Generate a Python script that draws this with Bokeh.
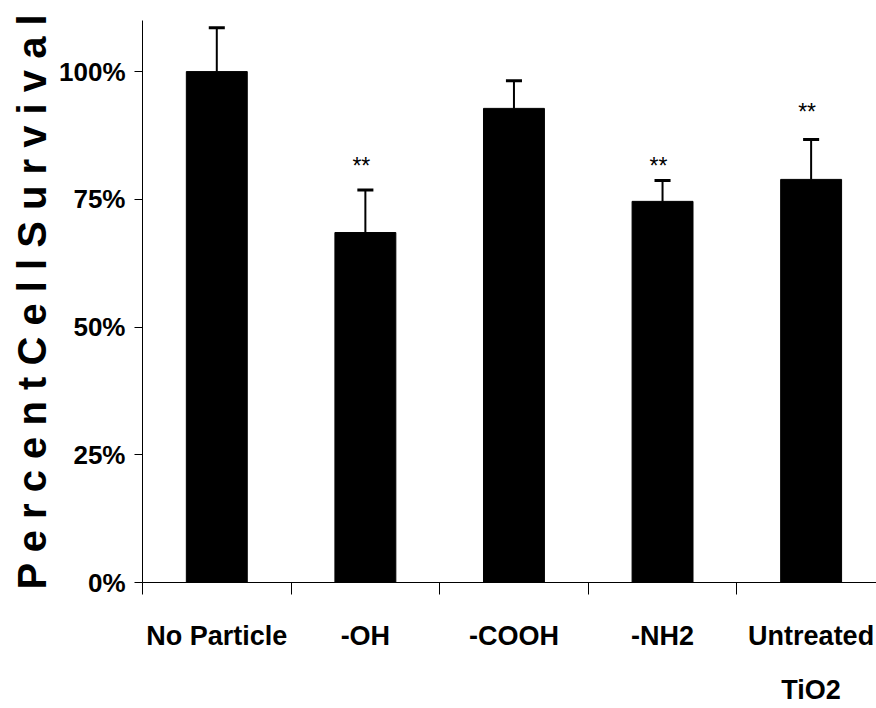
from bokeh.plotting import figure
from bokeh.models import (Range1d, FixedTicker, NumeralTickFormatter, ColumnDataSource)
from bokeh.core.properties import value
from bokeh.embed import file_html
from bokeh.resources import INLINE

# ---- data ----
categories = ["No Particle", "-OH", "-COOH", "-NH2", "Untreated\nTiO2"]
survival = [1.000, 0.685, 0.928, 0.746, 0.789]
survival_err = [0.086, 0.083, 0.054, 0.041, 0.078]
sig_marks = ["", "**", "", "**", "**"]
sig_height = [None, 0.815, None, 0.815, 0.920]
y_ticks = [0, 0.25, 0.5, 0.75, 1.0]

FONT = "Liberation Sans"

n = len(categories)
centers = [i + 0.5 for i in range(n)]
bar_w = 0.41
cap_half = 0.054

p = figure(width=876, height=708, x_range=Range1d(0, 4.94), y_range=Range1d(0, 1.10),
           output_backend="svg", toolbar_location=None,
           min_border_left=142, min_border_right=0, min_border_top=20, min_border_bottom=125)
p.outline_line_color = None
p.xgrid.visible = False
p.ygrid.visible = False
p.background_fill_color = "white"

src = ColumnDataSource(dict(x=centers, top=survival,
                            etop=[v + e for v, e in zip(survival, survival_err)],
                            cl=[c - cap_half for c in centers],
                            cr=[c + cap_half for c in centers]))
p.vbar(x="x", top="top", width=bar_w, bottom=0, source=src, fill_color="black", line_color="black")
p.segment(x0="x", y0="top", x1="x", y1="etop", source=src, line_color="black", line_width=2)
p.segment(x0="cl", y0="etop", x1="cr", y1="etop", source=src, line_color="black", line_width=3)

sx = [c for c, m in zip(centers, sig_marks) if m]
sy = [h for h, m in zip(sig_height, sig_marks) if m]
st = [m for m in sig_marks if m]
p.text(x=sx, y=sy, text=st, text_align="center", text_baseline="alphabetic",
       x_offset=-4, text_font=value(FONT), text_font_size="23px", text_color="black")

# y axis
ya = p.yaxis[0]
ya.ticker = FixedTicker(ticks=y_ticks)
ya.formatter = NumeralTickFormatter(format="0%")
ya.major_tick_out = 8
ya.major_tick_in = 0
ya.minor_tick_out = 0
ya.minor_tick_in = 0
ya.axis_line_color = "black"
ya.major_tick_line_color = "black"
ya.major_label_standoff = 9
ya.major_label_text_font = FONT
ya.major_label_text_font_style = "bold"
ya.major_label_text_font_size = "26px"
ya.major_label_text_color = "black"
ya.axis_label = " ".join(list("Percent")) + " " + " ".join(list("Cell")) + " " + " ".join(list("Survival"))
ya.axis_label_text_font = FONT
ya.axis_label_text_font_style = "bold"
ya.axis_label_text_font_size = "40px"
ya.axis_label_text_color = "black"
ya.axis_label_standoff = 2

# x axis
xa = p.xaxis[0]
xa.ticker = FixedTicker(ticks=centers, minor_ticks=list(range(n)))
xa.major_label_overrides = {c: lab for c, lab in zip(centers, categories)}
xa.major_tick_out = 0
xa.major_tick_in = 0
xa.minor_tick_out = 12
xa.minor_tick_in = 0
xa.minor_tick_line_color = "black"
xa.axis_line_color = "black"
xa.major_label_standoff = 26
xa.major_label_text_font = FONT
xa.major_label_text_font_style = "bold"
xa.major_label_text_font_size = "27px"
xa.major_label_text_color = "black"
xa.major_label_text_line_height = 1.83

open("out.html", "w").write(file_html(p, INLINE))
